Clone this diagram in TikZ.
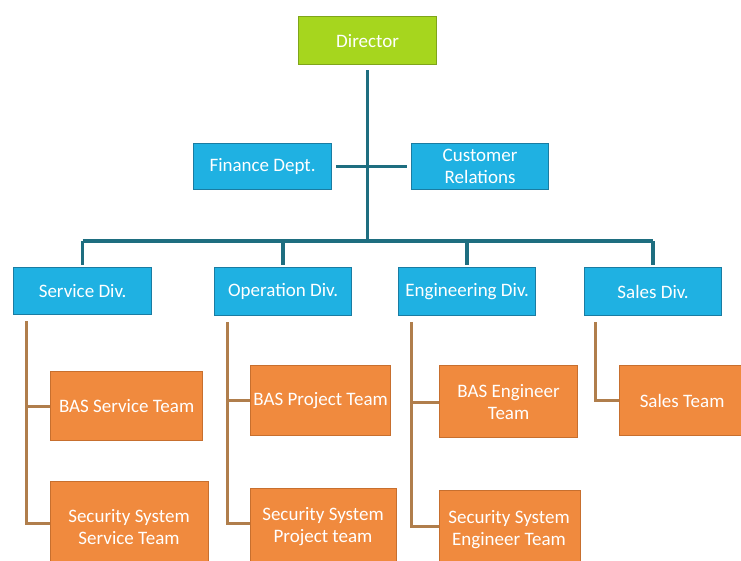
\documentclass[tikz,border=0pt]{standalone}
\usepackage{fontspec}
\setmainfont{Carlito}
\definecolor{dirgreen}{HTML}{A6D61E}
\definecolor{dirgreenb}{HTML}{7FA51A}
\definecolor{divblue}{HTML}{1FB1E2}
\definecolor{divblueb}{HTML}{1A7CA2}
\definecolor{teamor}{HTML}{F08A3E}
\definecolor{teamorb}{HTML}{C76F2E}
\definecolor{trunk}{HTML}{1E6E80}
\definecolor{orline}{HTML}{B07E4C}
\tikzset{
  boxfont/.style={font=\fontsize{19}{22}\selectfont},
  boxbase/.style={rectangle, anchor=north west, inner sep=0pt, align=center, text=white,
    boxfont, line width=1.2pt},
  dirbox/.style={boxbase, fill=dirgreen, draw=dirgreenb},
  divbox/.style={boxbase, fill=divblue, draw=divblueb},
  teambox/.style={boxbase, fill=teamor, draw=teamorb},
  teamtext/.style={text=white, align=center, boxfont},
  trunkline/.style={draw=trunk, line width=3.5pt},
  teamline/.style={draw=orline, line width=3pt},
}
\begin{document}
\begin{tikzpicture}[x=1pt,y=-1pt]
\useasboundingbox (0,0) rectangle (741,560);
\clip (0,0) rectangle (741,560);
% top level
\node[dirbox, minimum width=138pt, minimum height=48pt] (dir) at (298,16) {Director};
\node[divbox, minimum width=138pt, minimum height=46pt] (fin) at (193,143) {Finance Dept.};
\node[divbox, minimum width=137pt, minimum height=46pt] (cus) at (411,143) {Customer\\Relations};
% divisions
\node[divbox, minimum width=138pt, minimum height=47pt] (ser) at (13,267) {Service Div.};
\node[divbox, minimum width=137pt, minimum height=48pt] (ope) at (214,267) {Operation Div.};
\node[divbox, minimum width=137pt, minimum height=48pt] (eng) at (398,267) {Engineering Div.};
\node[divbox, minimum width=137pt, minimum height=48pt] (sal) at (584,267) {Sales Div.};
% teams
\node[teambox, minimum width=152pt, minimum height=69pt] (bser) at (50,371) {BAS Service Team};
\node[teambox, minimum width=158pt, minimum height=95pt] (sser) at (50,481) {};
\node[teamtext] (sserT) at (129,527) {Security System\\Service Team};
\node[teambox, minimum width=140pt, minimum height=70pt] (bpro) at (250,365) {BAS Project Team};
\node[teambox, minimum width=146pt, minimum height=90pt] (spro) at (250,488) {};
\node[teamtext] (sproT) at (323,527) {Security System\\Project team};
\node[teambox, minimum width=138pt, minimum height=72pt] (beng) at (439,365) {BAS Engineer\\Team};
\node[teambox, minimum width=141pt, minimum height=90pt] (seng) at (439,490) {};
\node[teamtext] (sengT) at (509,530) {Security System\\Engineer Team};
\node[teambox, minimum width=125pt, minimum height=70pt] (stea) at (619,365) {Sales Team};
% trunk connectors
\coordinate (bar) at ([yshift=26pt]dir.south |- ser.north);
\draw[trunkline] ([yshift=-5pt]dir.south) -- (bar);
\draw[trunkline] ([xshift=4pt]fin.east) -- ([xshift=-4pt]cus.west);
\draw[trunkline] (ser.north |- bar) -- (sal.north |- bar);
\foreach \d in {ser,ope,eng,sal}{
  \draw[trunkline] (\d.north |- bar) -- ([yshift=2pt]\d.north);
}
% team connectors
\coordinate (vser) at ([xshift=13pt,yshift=-6pt]ser.south west);
\coordinate (vope) at ([xshift=13pt,yshift=-6pt]ope.south west);
\coordinate (veng) at ([xshift=13pt,yshift=-6pt]eng.south west);
\coordinate (vsal) at ([xshift=11pt,yshift=-6pt]sal.south west);
\coordinate (lser) at (0,523);
\coordinate (lope) at (0,523);
\coordinate (leng) at (0,526);
\coordinate (leng2) at (0,402);
\draw[teamline] (vser) -- (vser |- lser) -- (sser.west |- lser);
\draw[teamline] (vser |- bser.west) -- (bser.west);
\draw[teamline] (vope) -- (vope |- lope) -- (spro.west |- lope);
\draw[teamline] (vope |- bpro.west) -- (bpro.west);
\draw[teamline] (veng) -- (veng |- leng) -- (seng.west |- leng);
\draw[teamline] (veng |- leng2) -- (beng.west |- leng2);
\draw[teamline] (vsal) -- (vsal |- stea.west) -- (stea.west);
\end{tikzpicture}
\end{document}
